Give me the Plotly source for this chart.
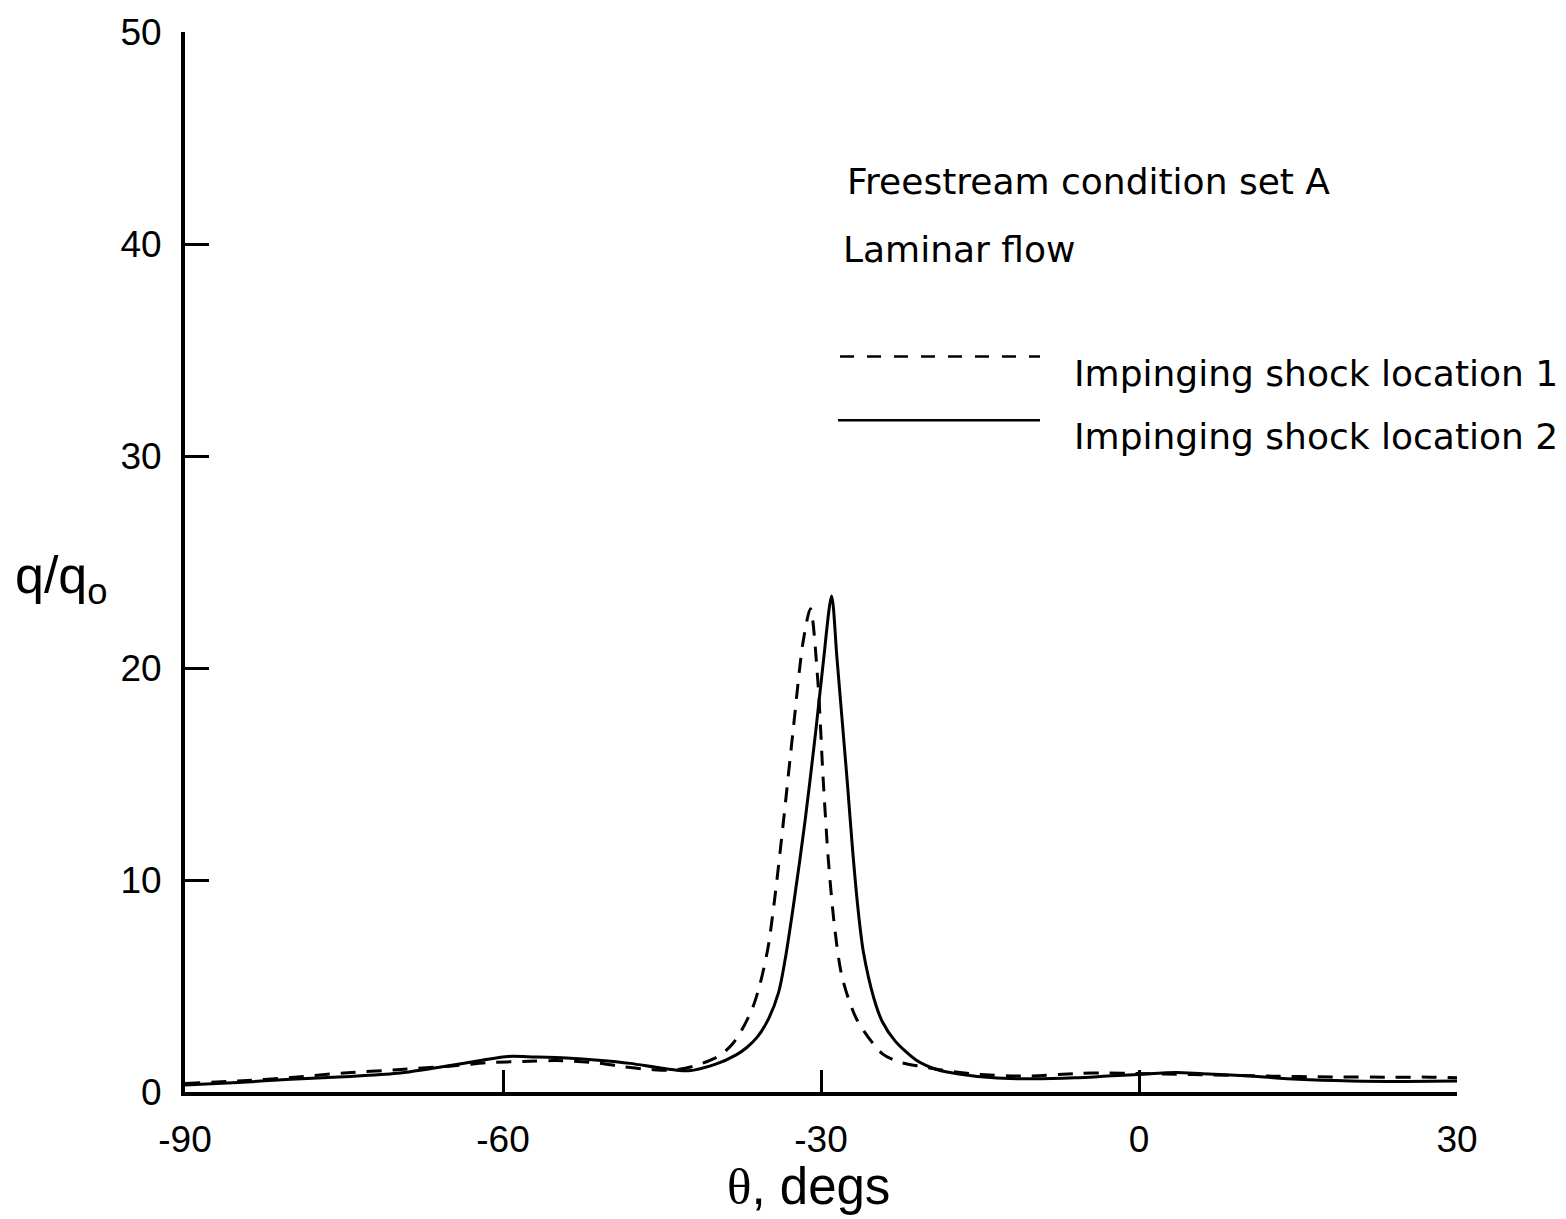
import plotly.graph_objects as go

# Data
theta_loc1 = [-90, -85, -80, -75, -70, -65, -61.5, -57.5, -55, -51, -48.7, -46, -44, -42, -40, -39,
              -38.3, -37.5, -36.5, -35.8, -35.0, -34.3, -33.6, -32.6, -31.7, -31.0, -30.3, -29.8, -29.3,
              -28.7, -28.0, -26.6, -24.2, -22.5, -20.5, -18.5, -15.6, -10.6, -5.6, -3, -0.6,
              5, 12.2, 18.3, 24, 27.5, 30]
q_loc1 = [0.4, 0.52, 0.68, 0.9, 1.05, 1.22, 1.38, 1.45, 1.48, 1.37, 1.19, 1.06, 1.03, 1.22, 1.6, 1.94,
          2.3, 2.9, 3.9, 5.0, 6.8, 9.4, 12.5, 17.2, 21.2, 22.8, 19.4, 14.8, 10.9,
          7.7, 5.4, 3.4, 1.8, 1.4, 1.2, 1.03, 0.85, 0.75, 0.88, 0.9, 0.88,
          0.82, 0.75, 0.71, 0.7, 0.7, 0.67]

theta_loc2 = [-90, -85, -80, -75, -70, -65, -62, -59.5, -57, -54, -51, -48, -45, -42.5, -40, -38,
              -37, -36, -35, -34, -33.4, -32.6, -31.5, -30.5, -29.8, -29.0, -28.5, -28.0, -27.5,
              -27.0, -26.5, -26.0, -25.0, -24.2, -23.0, -21.0, -19.0, -17.0, -14.0, -10.0, -6.0,
              -3.0, 0.0, 3.5, 6.0, 10.0, 15.0, 20.0, 25.0, 30.0]
q_loc2 = [0.33, 0.45, 0.6, 0.72, 0.88, 1.25, 1.5, 1.68, 1.65, 1.6, 1.5, 1.35, 1.12, 1.0, 1.3, 1.75,
          2.1, 2.6, 3.4, 4.7, 6.2, 8.8, 12.8, 17.0, 20.2, 23.4, 20.5, 17.5, 14.5,
          11.3, 8.6, 6.6, 4.4, 3.3, 2.4, 1.5, 1.05, 0.85, 0.68, 0.62, 0.67,
          0.75, 0.83, 0.92, 0.86, 0.77, 0.6, 0.52, 0.5, 0.52]

x_ticks = [-90, -60, -30, 0, 30]
y_ticks = [0, 10, 20, 30, 40, 50]

FONT = "Liberation Sans, Arial, Helvetica, sans-serif"
WIDE = "DejaVu Sans, sans-serif"

fig = go.Figure()
fig.add_trace(go.Scatter(x=theta_loc1, y=q_loc1, mode="lines",
                         line=dict(color="black", width=3, dash="15px,11px", shape="spline", smoothing=0.8),
                         name="Impinging shock location 1", showlegend=False))
fig.add_trace(go.Scatter(x=theta_loc2, y=q_loc2, mode="lines",
                         line=dict(color="black", width=3, shape="spline", smoothing=0.8),
                         name="Impinging shock location 2", showlegend=False))

L, R, T, B = 185, 109, 30, 127
W, H = 1566, 1219
pw, ph = W - L - R, H - T - B

def px(xpix):
    return (xpix - L) / pw

def py(ypix):
    return (H - B - ypix) / ph

fig.update_layout(
    width=W, height=H,
    margin=dict(l=L, r=R, t=T, b=B),
    paper_bgcolor="white", plot_bgcolor="white",
    font=dict(family=FONT, color="black"),
    xaxis=dict(range=[-90, 30], tickvals=x_ticks, ticktext=[str(v) for v in x_ticks],
               showline=True, linecolor="black", linewidth=4, ticks="inside", ticklen=22,
               tickwidth=2.5, tickcolor="black", showgrid=False, zeroline=False,
               tickfont=dict(size=37, family=FONT), ticklabelstandoff=12),
    yaxis=dict(range=[0, 50], tickvals=y_ticks, ticktext=[str(v) for v in y_ticks],
               showline=True, linecolor="black", linewidth=4, ticks="inside", ticklen=24,
               tickwidth=2.5, tickcolor="black", showgrid=False, zeroline=False,
               tickfont=dict(size=37, family=FONT), ticklabelstandoff=12),
    showlegend=False,
)

ann = [
    dict(text="<span style='font-family:Liberation Serif, serif'>θ</span>, degs", x=px(808), y=py(1187),
         xanchor="center", yanchor="middle", font=dict(size=51, family=FONT)),
    dict(text="q/q<sub>o</sub>", x=px(62), y=py(578), xanchor="center", yanchor="middle",
         font=dict(size=52, family=FONT)),
    dict(text="Freestream condition set A", x=px(845), y=py(180), xanchor="left", yanchor="middle",
         font=dict(size=36, family=WIDE)),
    dict(text="Laminar flow", x=px(841), y=py(248), xanchor="left", yanchor="middle",
         font=dict(size=36, family=WIDE)),
    dict(text="Impinging shock location 1", x=px(1072), y=py(372), xanchor="left", yanchor="middle",
         font=dict(size=36, family=WIDE)),
    dict(text="Impinging shock location 2", x=px(1072), y=py(435), xanchor="left", yanchor="middle",
         font=dict(size=36, family=WIDE)),
]
for a in ann:
    a.update(xref="paper", yref="paper", showarrow=False)
fig.update_layout(annotations=ann)

fig.add_shape(type="line", xref="paper", yref="paper", x0=px(840), x1=px(1040), y0=py(355), y1=py(355),
              line=dict(color="black", width=2.5, dash="14px,13px"))
fig.add_shape(type="line", xref="paper", yref="paper", x0=px(838), x1=px(1040), y0=py(419), y1=py(419),
              line=dict(color="black", width=2.5))

fig.write_html("out.html")
